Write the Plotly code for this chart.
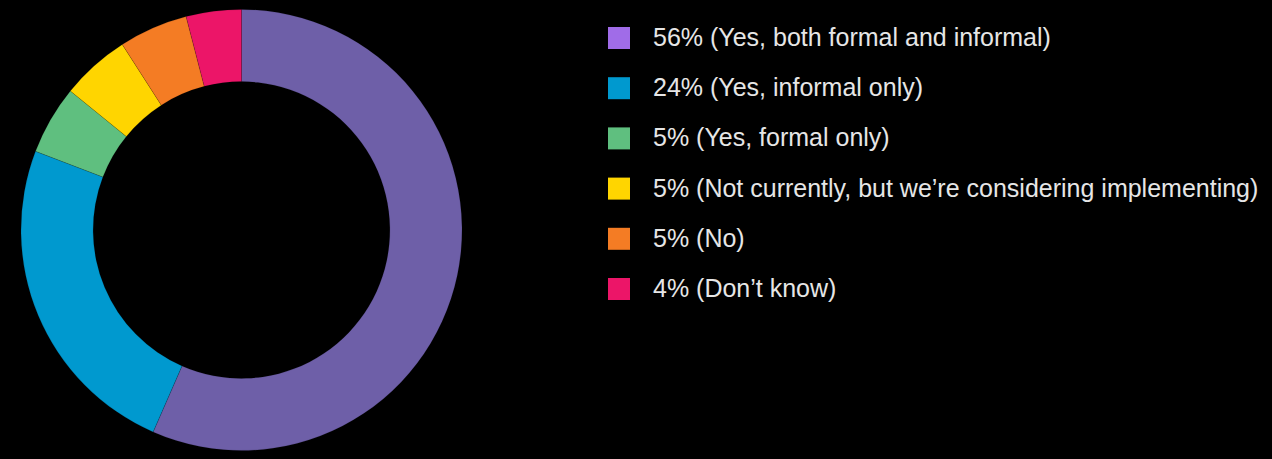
import plotly.graph_objects as go

categories = [
    "Yes, both formal and informal",
    "Yes, informal only",
    "Yes, formal only",
    "Not currently, but we\u2019re considering implementing",
    "No",
    "Don\u2019t know",
]
values = [56, 24, 5, 5, 5, 4]
slice_colors = ["#6E5FA8", "#0099CF", "#5FBF7F", "#FFD500", "#F47C24", "#EC1568"]
legend_colors = ["#A06CE8", "#0099CF", "#5FBF7F", "#FFD500", "#F47C24", "#EC1568"]

W, H = 1272, 459

fig = go.Figure()
fig.add_trace(go.Pie(
    labels=categories,
    values=values,
    hole=0.673,
    sort=False,
    direction="clockwise",
    rotation=0,
    marker=dict(colors=slice_colors, line=dict(color="rgba(0,0,0,0.25)", width=0.5)),
    textinfo="none",
    hoverinfo="label+percent",
    showlegend=False,
    domain=dict(x=[21 / W, 462 / W], y=[1 - 452 / H, 1 - 8 / H]),
))

# Custom legend: square markers + text
row0, step = 38, 50.2
sq = 22
mx = 619
tx = 651
for i, (cat, val, col) in enumerate(zip(categories, values, legend_colors)):
    cy = row0 + step * i
    fig.add_shape(
        type="rect", xref="paper", yref="paper",
        x0=(mx - sq / 2) / W, x1=(mx + sq / 2) / W,
        y0=1 - (cy + sq / 2) / H, y1=1 - (cy - sq / 2) / H,
        fillcolor=col, line=dict(width=0),
    )
    fig.add_annotation(
        xref="paper", yref="paper",
        x=tx / W, y=1 - (cy - 1) / H,
        xanchor="left", yanchor="middle",
        text=f"{val}% ({cat})",
        showarrow=False,
        font=dict(family="Liberation Sans, Arial, sans-serif", size=25, color="#E6E6E6"),
    )

fig.update_layout(
    width=W, height=H,
    margin=dict(l=0, r=0, t=0, b=0),
    paper_bgcolor="#000000",
    plot_bgcolor="#000000",
)

fig.write_html("out.html")
